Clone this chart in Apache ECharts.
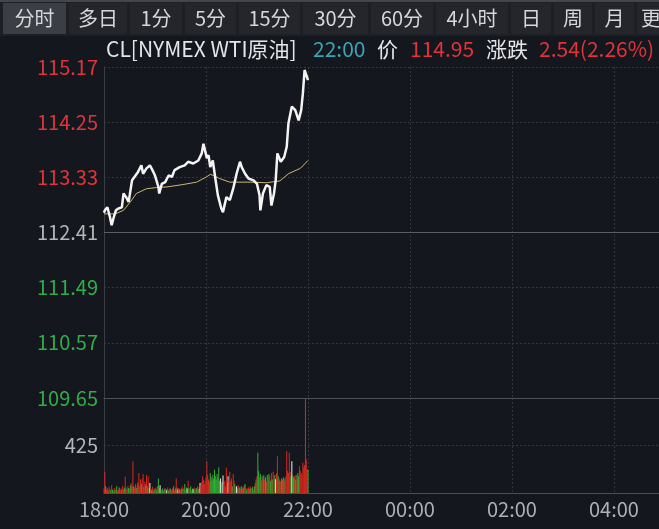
<!DOCTYPE html>
<html>
<head>
<meta charset="utf-8">
<script src="https://cdn.jsdelivr.net/npm/echarts@6/dist/echarts.min.js"></script>
<style>
  html, body { margin: 0; padding: 0; background: #15171e; }
  #main { width: 659px; height: 529px; }
</style>
</head>
<body>
<div id="main"></div>
<script>
// 周期标签
var tabs = ['分时', '多日', '1分', '5分', '15分', '30分', '60分', '4小时', '日', '周', '月', '更']
// 标题
var titleParts = ['CL[NYMEX WTI原油]', '22:00', '价', '114.95', '涨跌', '2.54(2.26%)']
// 价格刻度
var priceTicks = [109.65, 110.57, 111.49, 112.41, 113.33, 114.25, 115.17]
var prevClose = 112.41
var volTicks = [0, 425, 850]
// x轴: 从18:00起的分钟数
var timeTicks = [0, 120, 240, 360, 480, 600]
var timeMax = 653

// 分时价格 [分钟, 价格]
var pricePoints = [
  [0, 112.74], [1, 112.78], [4, 112.83], [7, 112.67], [9, 112.53], [11, 112.64], [14, 112.78],
  [17, 112.81], [21, 112.83], [23, 113.06], [26, 113.00], [29, 112.92], [33, 113.28], [36, 113.34],
  [40, 113.42], [44, 113.53], [46, 113.39], [50, 113.48], [54, 113.53], [57, 113.45], [60, 113.36],
  [64, 113.17], [65, 113.06], [68, 113.22], [72, 113.25], [76, 113.36], [80, 113.34], [83, 113.45],
  [89, 113.50], [95, 113.53], [99, 113.59], [105, 113.56], [111, 113.61], [115, 113.73], [117, 113.89],
  [119, 113.89], [121, 113.65], [123, 113.70], [125, 113.50], [128, 113.61], [131, 113.31], [134, 113.03],
  [138, 112.81], [140, 112.75], [144, 113.00], [148, 112.95], [152, 113.14], [156, 113.39], [160, 113.59],
  [162, 113.50], [166, 113.39], [170, 113.31], [176, 113.28], [180, 113.22], [183, 113.03], [184, 112.78],
  [187, 113.06], [191, 113.20], [195, 113.17], [197, 112.86], [200, 113.06], [202, 113.28], [204, 113.73],
  [208, 113.59], [212, 113.67], [215, 113.84], [217, 114.23], [221, 114.51], [225, 114.45], [229, 114.28],
  [232, 114.45], [234, 114.73], [236, 115.12], [238, 115.04], [240, 114.95]
]
// 均价
var avgPoints = [
  [0, 112.72], [13, 112.72], [23, 112.78], [31, 112.92], [38, 113.06], [50, 113.14], [62, 113.16],
  [74, 113.17], [93, 113.21], [109, 113.25], [121, 113.34], [125, 113.38], [129, 113.36], [136, 113.31],
  [148, 113.25], [172, 113.25], [191, 113.24], [207, 113.27], [217, 113.39], [231, 113.48], [240, 113.61]
]
// 每分钟成交量
var volumes = [
  40, 190, 60, 30, 45, 20, 55, 35, 25, 70,
  30, 20, 45, 25, 35, 60, 20, 30, 50, 25,
  40, 30, 65, 35, 50, 147, 40, 30, 60, 45,
  35, 70, 90, 55, 283, 60, 50, 80, 45, 70,
  95, 180, 60, 120, 80, 130, 170, 55, 100, 75,
  160, 60, 150, 45, 90, 40, 30, 55, 25, 40,
  35, 50, 30, 60, 130, 45, 70, 30, 25, 40,
  20, 35, 45, 25, 30, 50, 20, 35, 40, 25,
  30, 45, 60, 25, 40, 130, 50, 30, 45, 35,
  25, 40, 60, 35, 45, 80, 30, 50, 40, 110,
  45, 30, 60, 25, 40, 35, 50, 30, 45, 40,
  60, 35, 50, 90, 70, 100, 150, 120, 80, 110,
  140, 283, 160, 120, 100, 180, 140, 110, 160, 130,
  208, 150, 120, 170, 140, 230, 110, 130, 90, 100,
  157, 80, 110, 60, 226, 90, 150, 120, 190, 100,
  130, 60, 170, 110, 80, 50, 60, 40, 70, 45,
  55, 35, 60, 40, 50, 70, 80, 45, 30, 40,
  50, 35, 60, 45, 40, 55, 30, 60, 90, 120,
  150, 360, 200, 140, 170, 110, 150, 130, 160, 120,
  140, 100, 160, 130, 170, 150, 110, 180, 120, 190,
  140, 160, 123, 180, 328, 150, 130, 110, 100, 130,
  120, 140, 110, 130, 150, 375, 200, 180, 360, 190,
  150, 283, 160, 140, 150, 120, 160, 130, 180, 150,
  240, 200, 180, 160, 270, 230, 250, 842, 300, 210,
  210
]
// 涨跌方向 r涨 g跌 w平
var volDir = (
  'rrgrrgrrgr' + 'grrgrgrrgr' + 'rgrrgrgrrg' + 'rgrgrgrrgr' + 'grrrgrrgrg' +
  'rgrgwrgrgr' + 'grgrgrwgrg' + 'rgrgwrgrgr' + 'grgrgrgwrg' + 'rgrgrgrgwr' +
  'grgrgwrgrg' + 'rgrwrrrrrr' + 'rrrrrggggg' + 'gggggggwgg' + 'wrrrrrwrrr' +
  'rgrrgrwgrg' + 'grgrgrgrgr' + 'rgrgrgrgrg' + 'rggrgrgrgr' + 'grgrgrgrgr' +
  'rgwrrgrgrg' + 'rgrgrrrrrr' + 'gwggrggrgg' + 'rrrrrrrrrr' + 'g'
).split('')

var RED = '#e0343a', GREEN = '#2fae4a', GREY = '#b4b6ba'
var FONT = 'Noto Sans CJK SC'
var base = priceTicks[0]
var step = +(priceTicks[1] - priceTicks[0]).toFixed(2)

var myChart = echarts.init(document.getElementById('main'))

// 顶部周期栏
var tabX = [[3, 66], [69, 127], [130, 182], [185, 236], [239, 300], [303, 368], [371, 433], [436, 508], [511, 551], [554, 592], [595, 634], [637, 680]]
var graphics = [
  { type: 'rect', shape: { x: 0, y: 0, width: 659, height: 36 }, style: { fill: '#1d1f25' }, silent: true },
  { type: 'rect', shape: { x: 0, y: 0, width: 659, height: 2 }, style: { fill: '#44464c' }, silent: true }
]
tabs.forEach(function (t, i) {
  var b = tabX[i]
  graphics.push({
    type: 'rect', shape: { x: b[0], y: 3, width: b[1] - b[0], height: 31 },
    style: { fill: i === 0 ? '#3c3e45' : '#24262c' }, silent: true
  })
  graphics.push({
    type: 'text', x: i === 11 ? 651 : (b[0] + b[1]) / 2, y: 18,
    style: { text: t, fill: '#d6d7da', font: '20px "' + FONT + '"', textAlign: 'center', textVerticalAlign: 'middle' },
    silent: true
  })
})
// 标题行
var titleX = [106, 313, 377, 410, 486, 539]
var titleColor = ['#e4e5e8', '#3aa6b4', '#e4e5e8', RED, '#e4e5e8', RED]
titleParts.forEach(function (t, i) {
  graphics.push({
    type: 'text', x: titleX[i], y: 49,
    style: { text: t, fill: titleColor[i], font: '21px "' + FONT + '"', textVerticalAlign: 'middle' },
    silent: true
  })
})

function timeLabel(v) {
  var m = (18 * 60 + Number(v)) % 1440
  var h = Math.floor(m / 60), mm = m % 60
  return (h < 10 ? '0' : '') + h + ':' + (mm < 10 ? '0' : '') + mm
}

var option = {
  backgroundColor: '#15171e',
  animation: false,
  graphic: graphics,
  grid: [
    { left: 104, right: 0, top: 67, height: 331 },
    { left: 104, right: 0, top: 398, height: 95 }
  ],
  xAxis: [
    {
      type: 'value', gridIndex: 0, min: 0, max: timeMax, interval: 120,
      axisLabel: { show: false }, axisTick: { show: false },
      axisLine: { show: true, lineStyle: { color: '#4d5057' } },
      splitLine: { show: true, lineStyle: { color: '#33363d', type: [2, 2] } }
    },
    {
      type: 'value', gridIndex: 1, min: 0, max: timeMax, interval: 120,
      axisTick: { show: false },
      axisLine: { show: true, lineStyle: { color: '#4d5057' } },
      splitLine: { show: true, lineStyle: { color: '#33363d', type: [2, 2] } },
      axisLabel: {
        color: '#aeb0b5', fontSize: 20, fontFamily: FONT, margin: 6,
        showMaxLabel: false, formatter: timeLabel
      }
    }
  ],
  yAxis: [
    {
      type: 'value', gridIndex: 0, min: 0, max: +(step * 6).toFixed(2), interval: step,
      axisTick: { show: false },
      axisLine: { show: true, lineStyle: { color: '#3a3d44' } },
      splitLine: { show: true, lineStyle: { color: '#33363d', type: [2, 2] } },
      axisLabel: {
        fontSize: 20, fontFamily: FONT, margin: 6,
        formatter: function (v) { return (Number(v) + base).toFixed(2) },
        color: function (v) {
          var p = +(Number(v) + base).toFixed(2)
          return p > prevClose ? RED : (p < prevClose ? GREEN : GREY)
        }
      }
    },
    {
      type: 'value', gridIndex: 1, min: volTicks[0], max: volTicks[2], interval: volTicks[1],
      axisTick: { show: false },
      axisLine: { show: true, lineStyle: { color: '#3a3d44' } },
      splitLine: { show: true, lineStyle: { color: ['#33363d', '#33363d', '#4d5057'], type: [2, 2] } },
      axisLabel: {
        fontSize: 20, fontFamily: FONT, margin: 6, color: GREY,
        formatter: function (v) { return Number(v) === volTicks[1] ? String(volTicks[1]) : '' }
      }
    }
  ],
  series: [
    {
      name: '价格', type: 'line', xAxisIndex: 0, yAxisIndex: 0,
      symbol: 'none', z: 5,
      lineStyle: { color: '#f4f4f4', width: 2.5 },
      data: pricePoints.map(function (d) { return [d[0], +(d[1] - base).toFixed(3)] }),
      markLine: {
        silent: true, symbol: 'none', label: { show: false },
        lineStyle: { color: '#5a5d64', type: 'solid', width: 1 },
        data: [{ yAxis: +(prevClose - base).toFixed(2) }]
      }
    },
    {
      name: '均价', type: 'line', xAxisIndex: 0, yAxisIndex: 0,
      symbol: 'none', z: 4,
      lineStyle: { color: '#cdb66e', width: 1 },
      data: avgPoints.map(function (d) { return [d[0], +(d[1] - base).toFixed(3)] })
    },
    {
      name: '成交量', type: 'bar', xAxisIndex: 1, yAxisIndex: 1,
      barWidth: 1,
      data: volumes.map(function (v, i) {
        var c = volDir[i] === 'r' ? '#d8281f' : (volDir[i] === 'g' ? '#36b034' : '#f2f2f2')
        return { value: [i, v], itemStyle: { color: c } }
      })
    }
  ]
}
myChart.setOption(option)
</script>
</body>
</html>
